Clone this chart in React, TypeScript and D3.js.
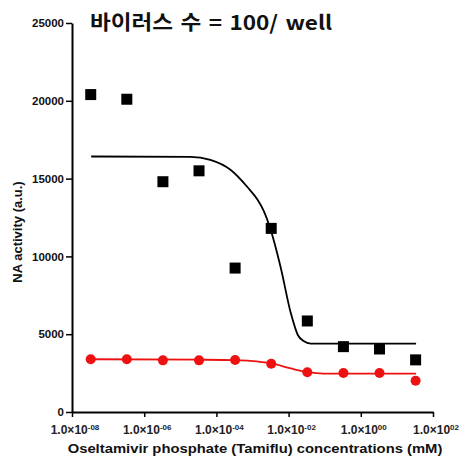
import React, { useEffect, useRef } from "react";
import * as d3 from "d3";

// concentrations (mM) and measured NA activity
const concentrations = [3.3e-8, 3.3e-7, 3.3e-6, 3.3e-5, 3.3e-4, 3.3e-3, 3.3e-2, 0.33, 3.3, 33];
const virusActivity = [20400, 20100, 14800, 15500, 9250, 11800, 5850, 4200, 4050, 3350];
const controlActivity = [3390, 3390, 3320, 3320, 3340, 3100, 2550, 2510, 2510, 2010];

// fitted curves
const virusFitConc = [3.4e-8, 1.9e-5, 6.8e-5, 2.5e-4, 7.2e-4, 1.4e-3, 2.0e-3, 3.2e-3, 6.0e-3, 1.15e-2, 1.8e-2, 2.6e-2, 4.1e-2, 34];
const virusFitValue = [16420, 16400, 16200, 15550, 14460, 13620, 12980, 11700, 9320, 6360, 4950, 4560, 4400, 4400];
const controlFitConc = [3.4e-8, 3.3e-5, 3.4e-4, 8.7e-4, 3.4e-3, 1.15e-2, 3.4e-2, 9.3e-2, 34];
const controlFitValue = [3390, 3360, 3330, 3290, 3120, 2800, 2560, 2470, 2460];

const xTickExps = ["-08", "-06", "-04", "-02", "00", "02"];
const xTicks = [1e-8, 1e-6, 1e-4, 1e-2, 1, 1e2];
const yTicks = [0, 5000, 10000, 15000, 20000, 25000];

const title = "바이러스 수 = 100/ well";
const xTitle = "Oseltamivir phosphate (Tamiflu) concentrations (mM)";
const yTitle = "NA activity (a.u.)";

export default function App() {
  const ref = useRef<SVGSVGElement>(null);

  useEffect(() => {
    const svg = d3.select(ref.current);
    svg.selectAll("*").remove();
    const font = "'Liberation Sans', Arial, sans-serif";

    const x = d3.scaleLog().domain([1e-8, 1e2]).range([72, 433]);
    const y = d3.scaleLinear().domain([0, 25000]).range([412, 23]);

    // y axis
    const yAxis = svg.append("g")
      .attr("transform", "translate(72,0)")
      .call(d3.axisLeft(y).tickValues(yTicks).tickSize(6).tickSizeOuter(0).tickPadding(2).tickFormat(d3.format("d")));
    yAxis.select(".domain").attr("stroke-width", 2);
    yAxis.selectAll(".tick line").attr("stroke-width", 1.5);
    yAxis.selectAll("text")
      .attr("font-family", font).attr("font-weight", "bold").attr("font-size", 11.5).attr("fill", "#111");

    // x axis
    const xAxis = svg.append("g")
      .attr("transform", "translate(0,412)")
      .call(d3.axisBottom(x).tickValues(xTicks).tickSize(5).tickSizeOuter(0).tickFormat(() => ""));
    xAxis.select(".domain").attr("stroke-width", 2);
    xAxis.selectAll(".tick line").attr("stroke-width", 1.5);

    const xl = svg.append("g").selectAll("text")
      .data(xTicks)
      .join("text")
      .attr("x", d => x(d) + 3)
      .attr("y", 434)
      .attr("text-anchor", "middle")
      .attr("font-family", font)
      .attr("font-weight", "bold")
      .attr("font-size", 12)
      .attr("fill", "#222");
    xl.append("tspan").text("1.0×10");
    xl.append("tspan").attr("font-size", 8).attr("dy", -4.5).text((d, i) => xTickExps[i]);

    // fitted curves
    const line = d3.line<[number, number]>()
      .x(d => x(d[0]))
      .y(d => y(d[1]))
      .curve(d3.curveMonotoneX);

    svg.append("path")
      .datum(virusFitConc.map((c, i) => [c, virusFitValue[i]] as [number, number]))
      .attr("d", line)
      .attr("fill", "none")
      .attr("stroke", "#000")
      .attr("stroke-width", 1.8);

    svg.append("path")
      .datum(controlFitConc.map((c, i) => [c, controlFitValue[i]] as [number, number]))
      .attr("d", line)
      .attr("fill", "none")
      .attr("stroke", "#ee1111")
      .attr("stroke-width", 1.8);

    // points
    const s = 11;
    svg.append("g").selectAll("rect")
      .data(concentrations)
      .join("rect")
      .attr("x", (d) => x(d) - s / 2)
      .attr("y", (d, i) => y(virusActivity[i]) - s / 2)
      .attr("width", s)
      .attr("height", s)
      .attr("fill", "#000");

    svg.append("g").selectAll("circle")
      .data(concentrations)
      .join("circle")
      .attr("cx", d => x(d))
      .attr("cy", (d, i) => y(controlActivity[i]))
      .attr("r", 5)
      .attr("fill", "#ee1111");

    // titles (source image is stretched a bit horizontally)
    svg.append("text")
      .attr("transform", "translate(90,30) scale(1.13,1)")
      .attr("font-family", "'Noto Sans CJK KR', sans-serif")
      .attr("font-weight", "bold")
      .attr("font-size", 20)
      .attr("word-spacing", 2)
      .attr("fill", "#111")
      .text(title);

    svg.append("text")
      .attr("transform", "translate(255,453) scale(1.14,1)")
      .attr("text-anchor", "middle")
      .attr("font-family", font)
      .attr("font-weight", "bold")
      .attr("font-size", 13)
      .attr("fill", "#111")
      .text(xTitle);

    svg.append("text")
      .attr("transform", "translate(22,232) rotate(-90)")
      .attr("text-anchor", "middle")
      .attr("font-family", font)
      .attr("font-weight", "bold")
      .attr("font-size", 13)
      .attr("fill", "#111")
      .text(yTitle);
  }, []);

  return (
    <svg ref={ref} width={465} height={459}
      style={{ position: "absolute", left: 0, top: 0, background: "#fff" }} />
  );
}
